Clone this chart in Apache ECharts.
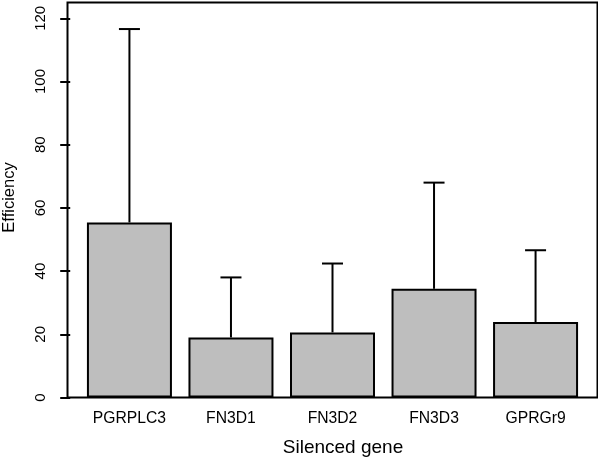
<!DOCTYPE html>
<html>
<head>
<meta charset="utf-8">
<script src="https://cdn.jsdelivr.net/npm/echarts@6/dist/echarts.min.js"></script>
<style>
html,body{margin:0;padding:0;background:#fff;}
#chart{width:598px;height:460px;}
</style>
</head>
<body>
<div id="chart"></div>
<script>
// Data
const categories = ['PGRPLC3', 'FN3D1', 'FN3D2', 'FN3D3', 'GPRGr9'];
const means = [55.4, 19.0, 20.6, 34.4, 23.9];
const errTop = [116.6, 38.0, 42.4, 68.0, 46.6];
const yTicks = [0, 20, 40, 60, 80, 100, 120];

// R barplot layout: width 1, space 0.2
const xPos = categories.map((c, i) => 0.7 + 1.2 * i);

const FONT = '"Liberation Sans", Arial, Helvetica, sans-serif';
const chart = echarts.init(document.getElementById('chart'), null, {renderer: 'canvas'});

const option = {
  animation: false,
  backgroundColor: '#ffffff',
  grid: {
    left: 67.5, top: 2.5, right: 0.5, bottom: 62.5,
    outerBoundsMode: 'none', containLabel: false,
    show: true, borderColor: '#000', borderWidth: 2, backgroundColor: 'transparent'
  },
  xAxis: {
    type: 'value',
    min: -0.032, max: 6.232,
    axisLine: {show: false},
    axisTick: {show: false},
    splitLine: {show: false},
    axisLabel: {
      customValues: xPos,
      margin: 13,
      fontFamily: FONT, fontSize: 15.7, color: '#000',
      formatter: v => categories[Math.round((v - 0.7) / 1.2)]
    },
    name: 'Silenced gene',
    nameLocation: 'middle',
    nameGap: 41,
    nameTextStyle: {fontFamily: FONT, fontSize: 19, color: '#000', padding: [0, 0, 0, 21]}
  },
  yAxis: {
    type: 'value',
    min: 0, max: 125, interval: 20,
    axisLine: {show: false},
    splitLine: {show: false},
    axisTick: {show: true, customValues: yTicks, length: 10, lineStyle: {color: '#000', width: 2}},
    axisLabel: {
      customValues: yTicks,
      rotate: 90, margin: 19,
      fontFamily: FONT, fontSize: 15, color: '#000'
    },
    name: 'Efficiency',
    nameLocation: 'middle',
    nameGap: 50,
    nameTextStyle: {fontFamily: FONT, fontSize: 16.5, color: '#000', padding: [0, 0, 0, 5]}
  },
  series: [
    {
      type: 'bar',
      data: xPos.map((x, i) => [x, means[i]]),
      barWidth: 85,
      itemStyle: {color: '#bebebe', borderColor: '#000', borderWidth: 2},
      z: 2
    },
    {
      type: 'custom',
      data: xPos.map((x, i) => [x, means[i], errTop[i]]),
      encode: {x: 0, y: [1, 2]},
      z: 3,
      renderItem: function (params, api) {
        const x = api.value(0);
        const p0 = api.coord([x, api.value(1)]);
        const p1 = api.coord([x, api.value(2)]);
        const st = {stroke: '#000', lineWidth: 2};
        return {
          type: 'group',
          children: [
            {type: 'line', shape: {x1: p0[0], y1: p0[1], x2: p1[0], y2: p1[1]}, style: st},
            {type: 'line', shape: {x1: p1[0] - 10.5, y1: p1[1], x2: p1[0] + 10.5, y2: p1[1]}, style: st}
          ]
        };
      }
    }
  ]
};
chart.setOption(option);
</script>
</body>
</html>
